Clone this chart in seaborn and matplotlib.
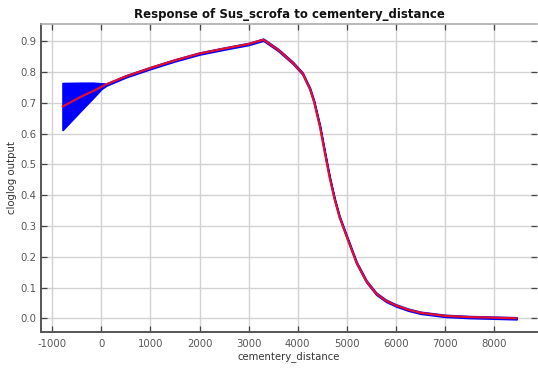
import matplotlib
matplotlib.use("Agg")
import matplotlib.pyplot as plt
import seaborn as sns
import numpy as np
import pandas as pd

# data
distance = [-790, -400, -170, 0, 100, 500, 1000, 1500, 2000, 2500, 3000, 3300,
            3600, 3900, 4100, 4250, 4330, 4450, 4550, 4650, 4750, 4850, 5000,
            5200, 5400, 5600, 5800, 6000, 6250, 6500, 7000, 7500, 8000, 8460]
mean_resp = [0.688, 0.721, 0.738, 0.752, 0.760, 0.786, 0.813, 0.838, 0.860, 0.876, 0.891, 0.905,
             0.872, 0.830, 0.795, 0.745, 0.705, 0.625, 0.540, 0.458, 0.388, 0.330, 0.265,
             0.180, 0.120, 0.080, 0.057, 0.042, 0.028, 0.018, 0.008, 0.004, 0.002, 0.000]
upper_resp = [0.764, 0.765, 0.765, 0.763, 0.762, 0.789, 0.816, 0.841, 0.863, 0.879, 0.894, 0.908,
              0.875, 0.833, 0.798, 0.748, 0.708, 0.628, 0.543, 0.461, 0.391, 0.333, 0.268,
              0.183, 0.123, 0.083, 0.060, 0.045, 0.031, 0.021, 0.011, 0.007, 0.005, 0.003]
lower_resp = [0.612, 0.678, 0.716, 0.745, 0.756, 0.783, 0.810, 0.835, 0.857, 0.873, 0.888, 0.902,
              0.869, 0.827, 0.792, 0.742, 0.702, 0.622, 0.537, 0.455, 0.385, 0.327, 0.262,
              0.177, 0.117, 0.077, 0.054, 0.039, 0.025, 0.015, 0.005, 0.001, -0.001, -0.003]
xticks = [-1000, 0, 1000, 2000, 3000, 4000, 5000, 6000, 7000, 8000]
yticks = [0.0, 0.1, 0.2, 0.3, 0.4, 0.5, 0.6, 0.7, 0.8, 0.9]

df = pd.DataFrame({"cementery_distance": distance, "mean": mean_resp,
                   "upper": upper_resp, "lower": lower_resp})

sns.set_theme(style="white")
plt.rcParams["font.family"] = ["DejaVu Sans"]
plt.rcParams["axes.unicode_minus"] = False

fig = plt.figure(figsize=(5.38, 3.71), dpi=100)
ax = fig.add_axes([41/538, 1 - 331.7/371, (537 - 41)/538, (331.7 - 24)/371])

ax.fill_between(df["cementery_distance"], df["lower"], df["upper"],
                color="#0000ff", edgecolor="#0000ff", linewidth=1.3, zorder=2)
sns.lineplot(data=df, x="cementery_distance", y="mean", ax=ax,
             color="#e0102e", linewidth=1.6, zorder=3)

ax.set_xlim(-1230, 8876)
ax.set_ylim(-0.0435, 0.956)
ax.set_xticks(xticks)
ax.set_xticklabels([str(v) for v in xticks])
ax.set_yticks(yticks)
ax.set_yticklabels([f"{v:.1f}" for v in yticks])

ax.grid(True, color="#d2d2d2", linewidth=1.0)
ax.set_axisbelow(True)

ax.tick_params(direction="in", length=4, width=0.9, color="#444444",
               labelsize=7.3, labelcolor="#555555",
               top=True, right=True, bottom=True, left=True)
ax.tick_params(axis="x", pad=5)
ax.tick_params(axis="y", pad=3.5)

for side in ["left", "bottom"]:
    ax.spines[side].set_color("#555555")
    ax.spines[side].set_linewidth(1.4)
ax.spines["top"].set_color("#aaaaaa")
ax.spines["top"].set_linewidth(1.2)
ax.spines["right"].set_visible(False)

ax.set_title("Response of Sus_scrofa to cementery_distance",
             fontsize=8.5, fontweight="bold", color="#111111", pad=4)
ax.set_xlabel("cementery_distance", fontsize=7.3, color="#333333", labelpad=2)
ax.set_ylabel("cloglog output", fontsize=7.3, color="#333333", labelpad=2)

fig.savefig("out.png", dpi=100)
